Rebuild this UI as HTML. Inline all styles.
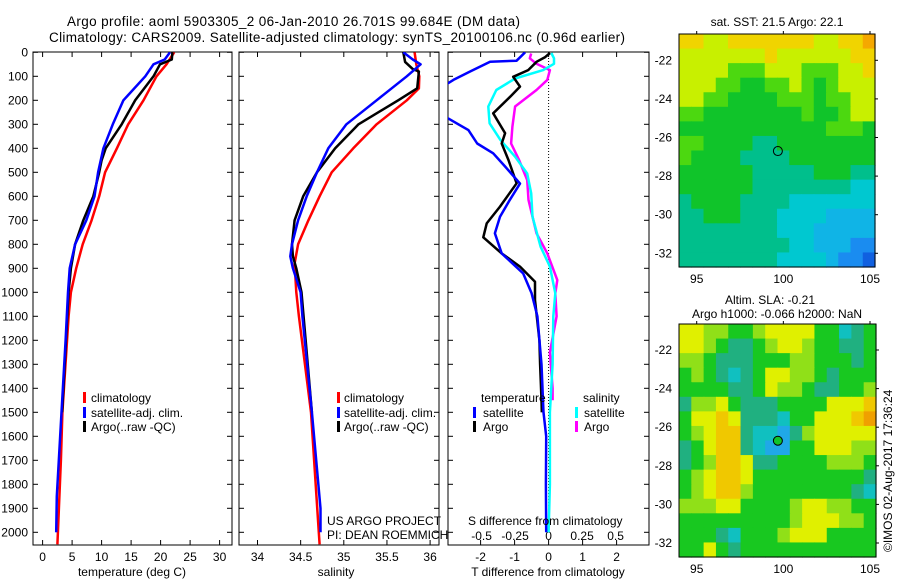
<!DOCTYPE html>
<html><head><meta charset="utf-8"><style>
html,body{margin:0;padding:0;background:#fff}
svg{display:block;font-family:"Liberation Sans",sans-serif}
text{font-size:12px;fill:#000}
</style></head><body>
<svg id="fig" width="900" height="580" viewBox="0 0 900 580">
<defs>
<clipPath id="c1"><rect x="33" y="52" width="199" height="493"/></clipPath>
<clipPath id="c2"><rect x="239" y="52" width="200" height="493"/></clipPath>
<clipPath id="c3"><rect x="448" y="52" width="201" height="493"/></clipPath>
</defs>
<text x="67" y="26" style="font-size:13.5px" textLength="453">Argo profile: aoml 5903305_2 06-Jan-2010 26.701S 99.684E (DM data)</text>
<text x="49" y="42" style="font-size:13.5px" textLength="576">Climatology: CARS2009. Satellite-adjusted climatology: synTS_20100106.nc (0.96d earlier)</text>
<g id="axes"></g>
<g id="marks"></g>
<g>
<rect x="83" y="392" width="3" height="11" fill="#f00"/><text x="91" y="402">climatology</text>
<rect x="83" y="407" width="3" height="11" fill="#00f"/><text x="91" y="417">satellite-adj. clim.</text>
<rect x="83" y="421" width="3" height="11" fill="#000"/><text x="91" y="431">Argo(..raw -QC)</text>
</g>
<g>
<rect x="337" y="392" width="3" height="11" fill="#f00"/><text x="344" y="402">climatology</text>
<rect x="337" y="407" width="3" height="11" fill="#00f"/><text x="344" y="417">satellite-adj. clim.</text>
<rect x="337" y="421" width="3" height="11" fill="#000"/><text x="344" y="431">Argo(..raw -QC)</text>
</g>
<g>
<text x="481" y="402">temperature</text><text x="583" y="402">salinity</text>
<rect x="473" y="407" width="3" height="11" fill="#00f"/><text x="483" y="417">satellite</text>
<rect x="473" y="421" width="3" height="11" fill="#000"/><text x="483" y="431">Argo</text>
<rect x="575" y="407" width="3" height="11" fill="#0ff"/><text x="584" y="417">satellite</text>
<rect x="575" y="421" width="3" height="11" fill="#f0f"/><text x="584" y="431">Argo</text>
</g>
<text x="327" y="525">US ARGO PROJECT</text>
<text x="327" y="539">PI: DEAN ROEMMICH</text>
<text x="468" y="525">S difference from climatology</text>
<text x="132" y="576" text-anchor="middle">temperature (deg C)</text>
<text x="336" y="576" text-anchor="middle">salinity</text>
<text x="548" y="576" text-anchor="middle">T difference from climatology</text>
<text x="777" y="26" text-anchor="middle">sat. SST: 21.5 Argo: 22.1</text>
<text x="770" y="304" text-anchor="middle">Altim. SLA: -0.21</text>
<text x="777" y="318" text-anchor="middle">Argo h1000: -0.066 h2000: NaN</text>
<text x="0" y="0" transform="translate(892,552) rotate(-90)">©IMOS 02-Aug-2017 17:36:24</text>
</svg>
<script>
// ---- data ----
const depthTicks=[0,100,200,300,400,500,600,700,800,900,1000,1100,1200,1300,1400,1500,1600,1700,1800,1900,2000];
const tempTicks=[0,5,10,15,20,25,30];
const salTicks=[34,34.5,35,35.5,36];
const tdiffTicks=[-2,-1,0,1,2];
const sdiffTicks=[-0.5,-0.25,0,0.25,0.5];
const sdiffTickLabels=["-0.5","-0.25","0","0.25","0.5"];
const climTdepth=[0,50,100,200,300,400,500,600,700,800,900,1000,1100,1500,1700,2000,2050];
const climT=[22.3,21.0,19.3,17.1,14.5,12.6,10.6,9.6,8.3,6.8,5.7,4.8,4.4,3.35,3.1,2.6,2.5];
const satTdepth=[0,30,50,100,200,300,400,500,600,700,800,900,1000,1200,1500,1850,2000];
const satT=[21.6,20.7,18.8,17.4,13.7,11.9,10.3,9.4,8.8,7.4,5.5,4.6,4.3,3.9,3.2,2.4,2.3];
const argoTdepth=[0,30,50,100,200,300,400,450,500,600,700,800,900,1000,1500];
const argoT=[22.0,21.9,19.9,18.8,15.7,13.4,10.7,10.0,9.6,8.6,6.9,5.5,4.8,4.4,3.3];
const climSdepth=[0,50,100,150,200,300,400,500,600,700,800,880,1000,1100,1500,2000,2050];
const climS=[35.82,35.84,35.875,35.87,35.73,35.38,35.11,34.86,34.72,34.59,34.47,34.43,34.45,34.48,34.62,34.71,34.72];
const satSdepth=[0,30,50,100,200,300,400,500,600,700,800,850,900,1000,1100,1500,1900,2000];
const satS=[35.69,35.8,35.89,35.73,35.38,35.03,34.82,34.69,34.57,34.47,34.40,34.38,34.41,34.50,34.52,34.63,34.73,34.73];
const argoSdepth=[0,40,70,80,150,200,300,400,500,600,700,800,850,900,1000,1500];
const argoS=[35.69,35.71,35.8,35.87,35.85,35.63,35.17,34.9,34.69,34.53,34.43,34.40,34.41,34.45,34.51,34.63];
const dTsatDepth=[0,35,39,80,115,160,240,275,324,380,421,476,547,615,685,754,838,921,1004,1100,1300,1500,1600,1800,2000];
const dTsat=[-0.69,-0.94,-1.72,-2.31,-2.8,-3.3,-3.3,-2.96,-2.36,-2.1,-1.63,-1.28,-0.84,-1.14,-1.43,-1.58,-1.38,-0.75,-0.5,-0.33,-0.21,-0.15,-0.07,-0.08,-0.07];
const dTargoDepth=[3,20,39,74,102,143,185,254,337,380,449,546,643,713,771,838,893,956,1032,1200,1300,1450,1500];
const dTargo=[0.04,-0.1,-0.35,-0.6,-1.04,-0.84,-1.13,-1.63,-1.28,-1.38,-1.18,-0.94,-1.43,-1.82,-1.92,-1.38,-0.84,-0.4,-0.4,-0.27,-0.25,-0.21,-0.2];
const dSsatDepth=[3,25,48,74,109,157,226,296,365,435,505,588,685,810,893,1004,1100,1300,1500,1800,2000];
const dSsat=[0.02,0.04,0.04,-0.04,-0.25,-0.39,-0.45,-0.44,-0.36,-0.25,-0.16,-0.13,-0.12,-0.06,0.01,0.05,0.035,0.03,0.01,0.01,0.0];
const dSargoDepth=[5,25,48,74,115,157,226,310,380,449,532,615,754,838,949,1004,1100,1250,1400,1450];
const dSargo=[-0.13,-0.14,-0.09,0.01,-0.01,-0.09,-0.25,-0.27,-0.28,-0.22,-0.16,-0.15,-0.09,-0.01,0.065,0.05,0.06,0.01,0.03,0.03];
const lonTicks=[95,100,105];
const latTicks=[-22,-24,-26,-28,-30,-32];
const argoLon=99.684, argoLat=-26.701;
const sstGrid=["8877888888877889","7777777877777788","7777666777666778","7776655667656777","7766555566656677","6655555555655677","5555555555556665","6655554455555555","6555544445555555","5555554444455544","5555554444444433","4555544443333333","4455544433332222","4444444433322222","4444444443322211","4444444433332110"];
const slaGrid=["7766556777755345","7765445677655445","6654445556655545","5654345776654555","5555445766544556","4667544455557778","5778744435577789","5678843324677777","4578843225577766","4568874455556665","5678875555555554","5678865555555543","6667755556776655","5555555556777665","5554355567775555","5575455555555555"];
const sstColors=["#1060e0","#1a8cf0","#10b4e6","#00c8d0","#00bf8c","#10c42a","#4cd810","#c8f000","#f0d400","#f5a800"];
const slaColors=["#1060e0","#2080f0","#20a8e8","#10c0c0","#20b080","#18c820","#90e018","#e0f000","#f0c800","#f0a000"];
// ---- scales ----
const NS="http://www.w3.org/2000/svg";
const yD=d=>52.3+d*0.24;
const xT=t=>42.6+t*5.9;
const xS=s=>257.5+(s-34)*86.3;
const xdT=t=>548.6+t*34;
const xdS=s=>548.6+s*134;
const xLon=l=>696.7+(l-95)*17.33;
const yLat1=la=>60.3+(-22-la)*19.3;
const yLat2=la=>350+(-22-la)*19.3;
const axes=document.getElementById('axes'), marks=document.getElementById('marks');
function mk(tag,attrs,parent){const e=document.createElementNS(NS,tag);for(const k in attrs)e.setAttribute(k,attrs[k]);parent.appendChild(e);return e;}
function panel(name,x0,x1,xticks,xf,labels,clip){
  const g=mk('g',{},axes);
  
  
  mk('rect',{x:x0,y:52,width:x1-x0,height:493,fill:'none',stroke:'#000','stroke-width':1},g);
  depthTicks.forEach(d=>{const y=yD(d);
    mk('line',{x1:x0,y1:y,x2:x0+5,y2:y,stroke:'#000'},g);
    mk('line',{x1:x1,y1:y,x2:x1-5,y2:y,stroke:'#000'},g);});
  xticks.forEach((v,i)=>{const x=xf(v);
    mk('line',{x1:x,y1:52,x2:x,y2:57,stroke:'#000'},g);
    mk('line',{x1:x,y1:545,x2:x,y2:540,stroke:'#000'},g);
    const t=mk('text',{x:x,y:561,'text-anchor':'middle'},g);t.textContent=labels?labels[i]:String(v);
    
    });
}
panel('temperature',33,232,tempTicks,xT);
panel('salinity',239,439,salTicks,xS);
panel('t-difference',448,649,tdiffTicks,xdT);
depthTicks.forEach(d=>{const t=mk('text',{x:28,y:yD(d)+4,'text-anchor':'end'},axes);t.textContent=String(d);
  
  });
sdiffTicks.forEach((v,i)=>{const t=mk('text',{x:xdS(v),y:540,'text-anchor':'middle'},axes);t.textContent=sdiffTickLabels[i];
  
  });
const zl=mk('line',{x1:xdT(0),y1:52,x2:xdT(0),y2:yD(2000),stroke:'#000','stroke-dasharray':'1,2'},axes);


function line(name,depths,vals,xf,col,clip){
  const d=depths.map((dd,i)=>(i?'L':'M')+xf(vals[i]).toFixed(1)+','+yD(dd).toFixed(1)).join('');
  const p=mk('path',{d:d,fill:'none',stroke:col,'stroke-width':2.5,'stroke-linejoin':'round','clip-path':'url(#'+clip+')'},marks);
  
  
}
line('temp-climatology-line',climTdepth,climT,xT,'#f00','c1');
line('temp-argo-line',argoTdepth,argoT,xT,'#000','c1');
line('temp-satellite-line',satTdepth,satT,xT,'#00f','c1');
line('sal-climatology-line',climSdepth,climS,xS,'#f00','c2');
line('sal-argo-line',argoSdepth,argoS,xS,'#000','c2');
line('sal-satellite-line',satSdepth,satS,xS,'#00f','c2');
line('s-diff-argo-line',dSargoDepth,dSargo,xdS,'#f0f','c3');
line('s-diff-satellite-line',dSsatDepth,dSsat,xdS,'#0ff','c3');
line('t-diff-argo-line',dTargoDepth,dTargo,xdT,'#000','c3');
line('t-diff-satellite-line',dTsatDepth,dTsat,xdT,'#00f','c3');
function map(name,grid,cols,x0,y0,w,h,yLat,filledMarker){
  const g=mk('g',{},axes);
  
  
  const nr=grid.length,nc=grid[0].length,cw=w/nc,ch=h/nr;
  grid.forEach((row,r)=>{for(let c=0;c<nc;c++){
    const cell=mk('rect',{x:(x0+c*cw).toFixed(2),y:(y0+r*ch).toFixed(2),width:(cw+0.6).toFixed(2),height:(ch+0.6).toFixed(2),fill:cols[+row[c]]},g);
    
    }});
  mk('rect',{x:x0,y:y0,width:w,height:h,fill:'none',stroke:'#000'},g);
  lonTicks.forEach(l=>{const x=xLon(l);mk('line',{x1:x,y1:y0,x2:x,y2:y0-3,stroke:'#000'},g);
    const t=mk('text',{x:x,y:y0+h+16,'text-anchor':'middle'},g);t.textContent=String(l);
    
    });
  latTicks.forEach(la=>{const y=yLat(la);mk('line',{x1:x0+w,y1:y,x2:x0+w+3,y2:y,stroke:'#000'},g);
    const t=mk('text',{x:x0-7,y:y+4,'text-anchor':'end'},g);t.textContent=String(la);
    
    });
  const m=mk('circle',{cx:xLon(argoLon),cy:yLat(argoLat),r:4.5,fill:filledMarker?'#10c42a':'none',stroke:'#000','stroke-width':1},g);
  
  
}
map('sst-map',sstGrid,sstColors,679,34,196,233,yLat1,false);
map('sla-map',slaGrid,slaColors,679,324,197,233,yLat2,true);
</script>
</body></html>
